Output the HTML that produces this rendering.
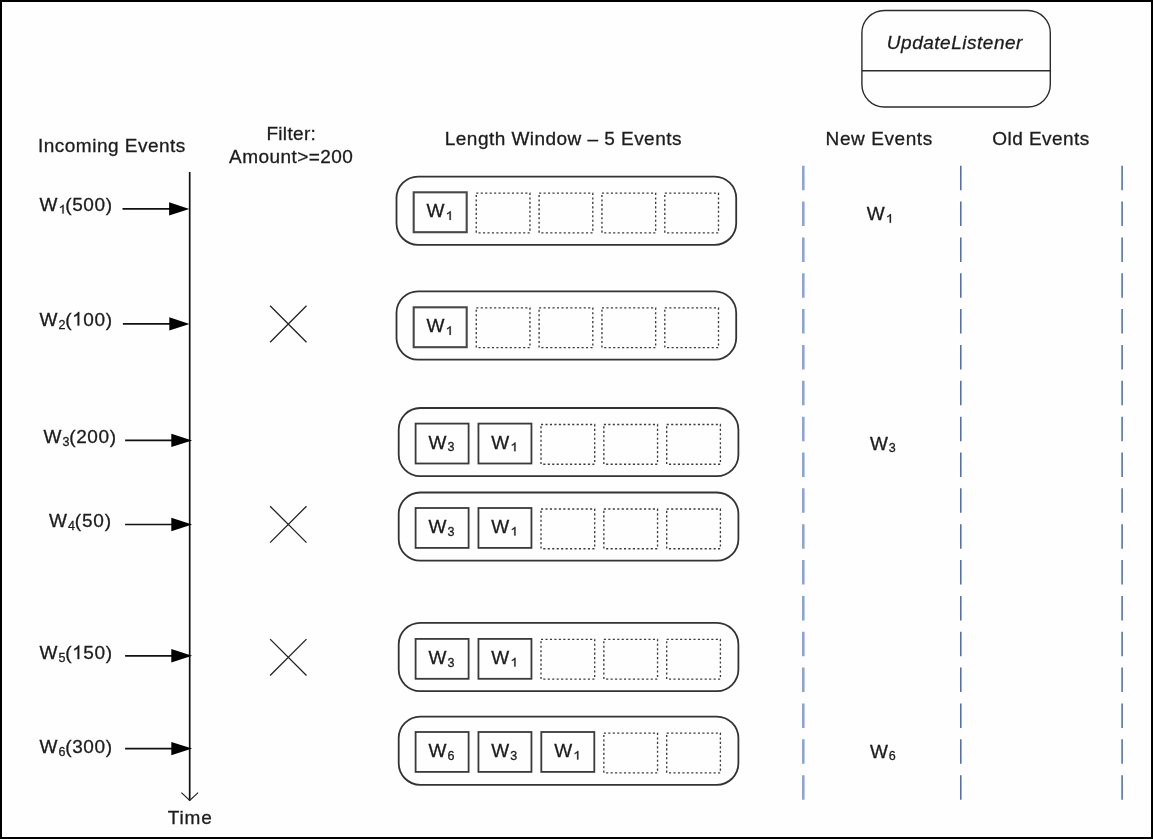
<!DOCTYPE html>
<html><head><meta charset="utf-8"><title>Length Window</title>
<style>
html,body{margin:0;padding:0;background:#fff;}
svg{display:block;will-change:transform;}
text{font-family:"Liberation Sans",sans-serif;fill:#1c1c1c;stroke:#1c1c1c;stroke-width:0.3px;}
.t{font-size:19px;}
.s{font-size:12.5px;}
.i{font-style:italic;}
</style></head><body>
<svg width="1153" height="839" viewBox="0 0 1153 839">
<rect x="0" y="0" width="1153" height="839" fill="#000"/>
<rect x="2" y="2" width="1149" height="835" fill="#fefefe"/>
<text class="t" x="38.0" y="151.5" textLength="147.3">Incoming Events</text>
<text class="t" x="266.4" y="139.6" textLength="49.4">Filter:</text>
<text class="t" x="229.1" y="163.2" textLength="123.8">Amount&gt;=200</text>
<text class="t" x="444.8" y="144.5" textLength="236.6">Length Window – 5 Events</text>
<text class="t" x="825.6" y="144.7" textLength="106.6">New Events</text>
<text class="t" x="992.3" y="144.7" textLength="96.9">Old Events</text>
<text class="t i" x="886.8" y="49.2" textLength="135.6">UpdateListener</text>
<text class="t" x="167.8" y="823.8" textLength="44">Time</text>
<rect x="861.9" y="10.5" width="188.4" height="96.5" rx="22.5" ry="22.5" fill="none" stroke="#2b2b2b" stroke-width="1.4"/>
<line x1="861.9" y1="70.7" x2="1050.3" y2="70.7" stroke="#2b2b2b" stroke-width="1.6"/>
<line x1="189.7" y1="172" x2="189.7" y2="800.5" stroke="#111" stroke-width="1.7"/>
<polyline points="181.4,792.6 189.7,800.5 198.1,792.6" fill="none" stroke="#222" stroke-width="1.15"/>
<text class="t" x="39.5" y="210.5">W</text>
<path d="M763 0H583V1147Q518 1085 412.5 1023T223 930V1104Q374 1175 487 1276T647 1472H763Z" fill="#1c1c1c" stroke="#1c1c1c" stroke-width="40" transform="translate(58.44 213.5) scale(0.006836 -0.00592)"/>
<text class="t" letter-spacing="0.6" x="65.25" y="210.5">(500)</text>
<line x1="122.5" y1="208.9" x2="179.3" y2="208.9" stroke="#111" stroke-width="1.7"/>
<polygon points="169.1,202.2 189.3,208.9 169.1,215.6" fill="#000"/>
<text class="t" x="39.5" y="325.6">W</text>
<text class="s" x="58.43" y="328.6">2</text>
<text class="t" letter-spacing="0.6" x="65.25" y="325.6">(</text>
<path d="M763 0H583V1147Q518 1085 412.5 1023T223 930V1104Q374 1175 487 1276T647 1472H763Z" fill="#1c1c1c" stroke="#1c1c1c" stroke-width="32" transform="translate(72.18 325.6) scale(0.009277 -0.009277)"/>
<text class="t" letter-spacing="0.6" x="83.34" y="325.6">00)</text>
<line x1="122.9" y1="323.9" x2="179.5" y2="323.9" stroke="#111" stroke-width="1.7"/>
<polygon points="169.3,317.2 189.5,323.9 169.3,330.6" fill="#000"/>
<text class="t" x="43.5" y="443.4">W</text>
<text class="s" x="62.43" y="446.4">3</text>
<text class="t" letter-spacing="0.6" x="69.25" y="443.4">(200)</text>
<line x1="125.1" y1="440.4" x2="181.5" y2="440.4" stroke="#111" stroke-width="1.7"/>
<polygon points="171.3,433.7 192.1,440.4 171.3,447.1" fill="#000"/>
<text class="t" x="49.1" y="526.5">W</text>
<text class="s" x="68.03" y="529.5">4</text>
<text class="t" letter-spacing="0.8" x="74.85" y="526.5">(50)</text>
<line x1="125.1" y1="524.5" x2="181.5" y2="524.5" stroke="#111" stroke-width="1.7"/>
<polygon points="171.3,517.8 192.1,524.5 171.3,531.2" fill="#000"/>
<text class="t" x="39.5" y="659.1">W</text>
<text class="s" x="58.43" y="662.1">5</text>
<text class="t" letter-spacing="0.6" x="65.25" y="659.1">(</text>
<path d="M763 0H583V1147Q518 1085 412.5 1023T223 930V1104Q374 1175 487 1276T647 1472H763Z" fill="#1c1c1c" stroke="#1c1c1c" stroke-width="32" transform="translate(72.18 659.1) scale(0.009277 -0.009277)"/>
<text class="t" letter-spacing="0.6" x="83.34" y="659.1">50)</text>
<line x1="125.1" y1="655.8" x2="181.5" y2="655.8" stroke="#111" stroke-width="1.7"/>
<polygon points="171.3,649.1 192.1,655.8 171.3,662.5" fill="#000"/>
<text class="t" x="39.5" y="752.6">W</text>
<text class="s" x="58.43" y="755.6">6</text>
<text class="t" letter-spacing="0.6" x="65.25" y="752.6">(300)</text>
<line x1="125.1" y1="748.6" x2="181.5" y2="748.6" stroke="#111" stroke-width="1.7"/>
<polygon points="171.3,741.9 192.1,748.6 171.3,755.3" fill="#000"/>
<path d="M270.1 305.8 L306.5 342.2 M306.5 305.8 L270.1 342.2" stroke="#222" stroke-width="1.3" fill="none"/>
<path d="M270.1 506.2 L306.5 542.6 M306.5 506.2 L270.1 542.6" stroke="#222" stroke-width="1.3" fill="none"/>
<path d="M270.1 639.1 L306.5 675.5 M306.5 639.1 L270.1 675.5" stroke="#222" stroke-width="1.3" fill="none"/>
<rect x="396.5" y="176.6" width="339.7" height="68.2" rx="21.5" ry="21.5" fill="none" stroke="#333" stroke-width="1.8"/>
<rect x="413.7" y="192.3" width="53" height="39.9" fill="none" stroke="#484848" stroke-width="2.1"/>
<text class="t" x="426.6" y="217.2">W</text>
<path d="M763 0H583V1147Q518 1085 412.5 1023T223 930V1104Q374 1175 487 1276T647 1472H763Z" fill="#1c1c1c" stroke="#1c1c1c" stroke-width="40" transform="translate(445.54 219.9) scale(0.006836 -0.00592)"/>
<rect x="476.25" y="193.1" width="53.7" height="39.7" fill="none" stroke="#3c3c3c" stroke-width="1.35" stroke-dasharray="2.1 2.36"/>
<rect x="539.1" y="193.1" width="53.7" height="39.7" fill="none" stroke="#3c3c3c" stroke-width="1.35" stroke-dasharray="2.1 2.36"/>
<rect x="601.95" y="193.1" width="53.7" height="39.7" fill="none" stroke="#3c3c3c" stroke-width="1.35" stroke-dasharray="2.1 2.36"/>
<rect x="664.8" y="193.1" width="53.7" height="39.7" fill="none" stroke="#3c3c3c" stroke-width="1.35" stroke-dasharray="2.1 2.36"/>
<rect x="396.5" y="291.4" width="339.7" height="68.2" rx="21.5" ry="21.5" fill="none" stroke="#333" stroke-width="1.8"/>
<rect x="413.7" y="307.3" width="53" height="39.9" fill="none" stroke="#484848" stroke-width="2.1"/>
<text class="t" x="426.6" y="332.2">W</text>
<path d="M763 0H583V1147Q518 1085 412.5 1023T223 930V1104Q374 1175 487 1276T647 1472H763Z" fill="#1c1c1c" stroke="#1c1c1c" stroke-width="40" transform="translate(445.54 334.9) scale(0.006836 -0.00592)"/>
<rect x="476.25" y="307.9" width="53.7" height="39.7" fill="none" stroke="#3c3c3c" stroke-width="1.35" stroke-dasharray="2.1 2.36"/>
<rect x="539.1" y="307.9" width="53.7" height="39.7" fill="none" stroke="#3c3c3c" stroke-width="1.35" stroke-dasharray="2.1 2.36"/>
<rect x="601.95" y="307.9" width="53.7" height="39.7" fill="none" stroke="#3c3c3c" stroke-width="1.35" stroke-dasharray="2.1 2.36"/>
<rect x="664.8" y="307.9" width="53.7" height="39.7" fill="none" stroke="#3c3c3c" stroke-width="1.35" stroke-dasharray="2.1 2.36"/>
<rect x="398.7" y="408.0" width="339.7" height="68.2" rx="21.5" ry="21.5" fill="none" stroke="#333" stroke-width="1.8"/>
<rect x="415.6" y="423.6" width="53" height="39.9" fill="none" stroke="#3a3a3a" stroke-width="1.8"/>
<text class="t" x="428.5" y="448.5">W</text>
<text class="s" x="447.43" y="451.2">3</text>
<rect x="478.45" y="423.6" width="53" height="39.9" fill="none" stroke="#3a3a3a" stroke-width="1.8"/>
<text class="t" x="491.35" y="448.5">W</text>
<path d="M763 0H583V1147Q518 1085 412.5 1023T223 930V1104Q374 1175 487 1276T647 1472H763Z" fill="#1c1c1c" stroke="#1c1c1c" stroke-width="40" transform="translate(510.29 451.2) scale(0.006836 -0.00592)"/>
<rect x="541.0" y="424.5" width="53.7" height="39.7" fill="none" stroke="#3c3c3c" stroke-width="1.35" stroke-dasharray="2.1 2.36"/>
<rect x="603.85" y="424.5" width="53.7" height="39.7" fill="none" stroke="#3c3c3c" stroke-width="1.35" stroke-dasharray="2.1 2.36"/>
<rect x="666.7" y="424.5" width="53.7" height="39.7" fill="none" stroke="#3c3c3c" stroke-width="1.35" stroke-dasharray="2.1 2.36"/>
<rect x="398.7" y="492.5" width="339.7" height="68.2" rx="21.5" ry="21.5" fill="none" stroke="#333" stroke-width="1.8"/>
<rect x="415.6" y="508.0" width="53" height="39.9" fill="none" stroke="#3a3a3a" stroke-width="1.8"/>
<text class="t" x="428.5" y="532.9">W</text>
<text class="s" x="447.43" y="535.6">3</text>
<rect x="478.45" y="508.0" width="53" height="39.9" fill="none" stroke="#3a3a3a" stroke-width="1.8"/>
<text class="t" x="491.35" y="532.9">W</text>
<path d="M763 0H583V1147Q518 1085 412.5 1023T223 930V1104Q374 1175 487 1276T647 1472H763Z" fill="#1c1c1c" stroke="#1c1c1c" stroke-width="40" transform="translate(510.29 535.6) scale(0.006836 -0.00592)"/>
<rect x="541.0" y="509.0" width="53.7" height="39.7" fill="none" stroke="#3c3c3c" stroke-width="1.35" stroke-dasharray="2.1 2.36"/>
<rect x="603.85" y="509.0" width="53.7" height="39.7" fill="none" stroke="#3c3c3c" stroke-width="1.35" stroke-dasharray="2.1 2.36"/>
<rect x="666.7" y="509.0" width="53.7" height="39.7" fill="none" stroke="#3c3c3c" stroke-width="1.35" stroke-dasharray="2.1 2.36"/>
<rect x="398.7" y="622.9" width="339.7" height="68.2" rx="21.5" ry="21.5" fill="none" stroke="#333" stroke-width="1.8"/>
<rect x="415.6" y="638.9" width="53" height="39.9" fill="none" stroke="#3a3a3a" stroke-width="1.8"/>
<text class="t" x="428.5" y="663.8">W</text>
<text class="s" x="447.43" y="666.5">3</text>
<rect x="478.45" y="638.9" width="53" height="39.9" fill="none" stroke="#3a3a3a" stroke-width="1.8"/>
<text class="t" x="491.35" y="663.8">W</text>
<path d="M763 0H583V1147Q518 1085 412.5 1023T223 930V1104Q374 1175 487 1276T647 1472H763Z" fill="#1c1c1c" stroke="#1c1c1c" stroke-width="40" transform="translate(510.29 666.5) scale(0.006836 -0.00592)"/>
<rect x="541.0" y="639.4" width="53.7" height="39.7" fill="none" stroke="#3c3c3c" stroke-width="1.35" stroke-dasharray="2.1 2.36"/>
<rect x="603.85" y="639.4" width="53.7" height="39.7" fill="none" stroke="#3c3c3c" stroke-width="1.35" stroke-dasharray="2.1 2.36"/>
<rect x="666.7" y="639.4" width="53.7" height="39.7" fill="none" stroke="#3c3c3c" stroke-width="1.35" stroke-dasharray="2.1 2.36"/>
<rect x="398.7" y="716.6" width="339.7" height="68.2" rx="21.5" ry="21.5" fill="none" stroke="#333" stroke-width="1.8"/>
<rect x="415.6" y="732.0" width="53" height="39.9" fill="none" stroke="#3a3a3a" stroke-width="1.8"/>
<text class="t" x="428.5" y="756.9">W</text>
<text class="s" x="447.43" y="759.6">6</text>
<rect x="478.45" y="732.0" width="53" height="39.9" fill="none" stroke="#3a3a3a" stroke-width="1.8"/>
<text class="t" x="491.35" y="756.9">W</text>
<text class="s" x="510.28" y="759.6">3</text>
<rect x="541.3" y="732.0" width="53" height="39.9" fill="none" stroke="#3a3a3a" stroke-width="1.8"/>
<text class="t" x="554.2" y="756.9">W</text>
<path d="M763 0H583V1147Q518 1085 412.5 1023T223 930V1104Q374 1175 487 1276T647 1472H763Z" fill="#1c1c1c" stroke="#1c1c1c" stroke-width="40" transform="translate(573.14 759.6) scale(0.006836 -0.00592)"/>
<rect x="603.85" y="733.1" width="53.7" height="39.7" fill="none" stroke="#3c3c3c" stroke-width="1.35" stroke-dasharray="2.1 2.36"/>
<rect x="666.7" y="733.1" width="53.7" height="39.7" fill="none" stroke="#3c3c3c" stroke-width="1.35" stroke-dasharray="2.1 2.36"/>
<text class="t" x="866.8" y="219.6">W</text>
<path d="M763 0H583V1147Q518 1085 412.5 1023T223 930V1104Q374 1175 487 1276T647 1472H763Z" fill="#1c1c1c" stroke="#1c1c1c" stroke-width="40" transform="translate(885.74 222.8) scale(0.006836 -0.00592)"/>
<text class="t" x="869.9" y="449.8">W</text>
<text class="s" x="888.83" y="452.1">3</text>
<text class="t" x="869.9" y="757.7">W</text>
<text class="s" x="888.83" y="760.2">6</text>
<line x1="803.3" y1="165.7" x2="803.3" y2="800" stroke="#8aa6d7" stroke-width="2.6" stroke-dasharray="24.5 11.35"/>
<line x1="960.8" y1="165.7" x2="960.8" y2="800" stroke="#446bb7" stroke-width="1.5" stroke-dasharray="24.5 11.35"/>
<line x1="1122.1" y1="165.7" x2="1122.1" y2="800" stroke="#446bb7" stroke-width="1.5" stroke-dasharray="24.5 11.35"/>
</svg>
</body></html>
